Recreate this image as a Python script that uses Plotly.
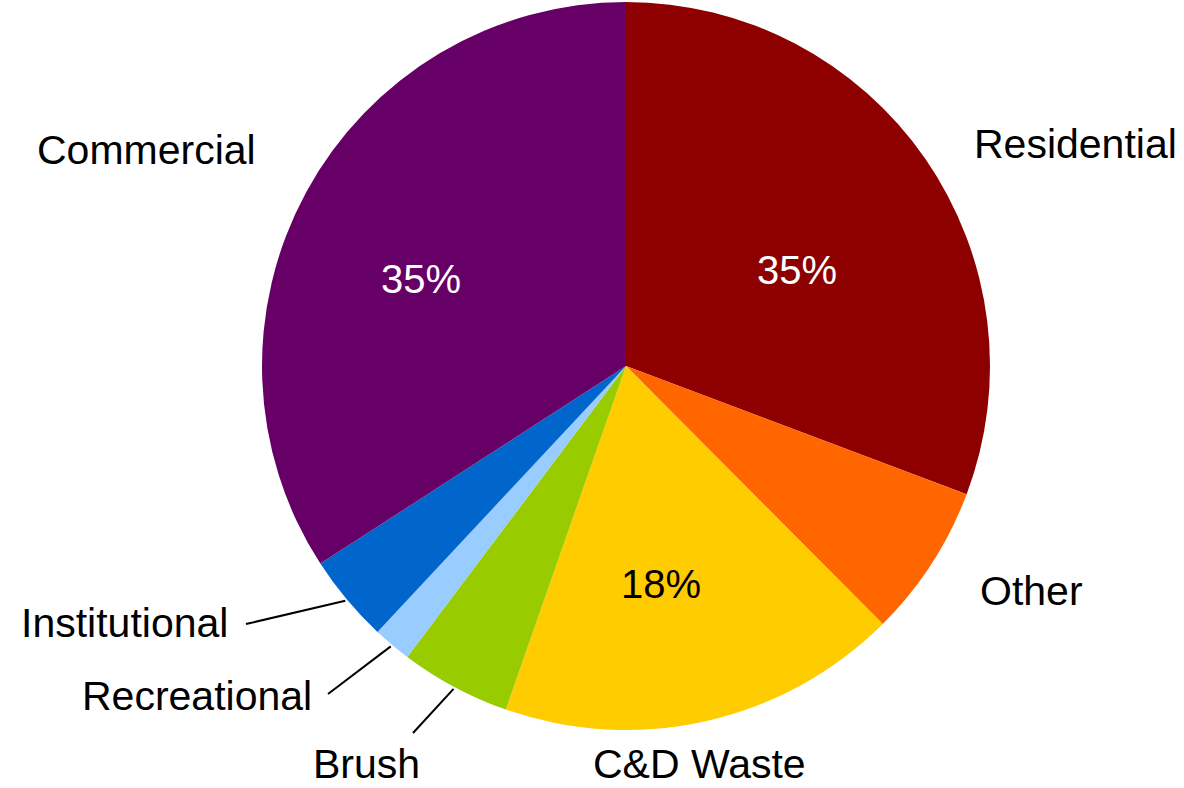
import plotly.graph_objects as go
import math

# ---- data (clockwise from 12 o'clock) ----
categories = ["Residential", "Other", "C&D Waste", "Brush", "Recreational", "Institutional", "Commercial"]
shares = [30.7, 6.8, 17.8, 4.9, 1.7, 3.9, 34.1]
pct_labels = ["35%", "", "18%", "", "", "", "35%"]
colors = ["#8E0000", "#FF6600", "#FFCC00", "#99CC00", "#99CCFF", "#0066CC", "#660066"]
pct_colors = ["white", "black", "black", "black", "black", "black", "white"]

W, H = 1184, 788
CX, CY, R = 626, 366, 364
FONT = "Liberation Sans, Arial, sans-serif"

def px(x):
    return x / W

def py(y):
    return 1 - y / H

fig = go.Figure(go.Pie(
    labels=categories,
    values=shares,
    textinfo="none",
    marker=dict(colors=colors, line=dict(width=0)),
    sort=False,
    direction="clockwise",
    rotation=0,
    showlegend=False,
    hoverinfo="label+percent",
    domain=dict(x=[px(CX - R), px(CX + R)], y=[py(CY + R), py(CY - R)]),
))

# mid-angle of each slice (clockwise from top), used for leader lines
total = sum(shares)
mid = {}
acc = 0.0
for c, v in zip(categories, shares):
    mid[c] = (acc + v / 2) / total * 360
    acc += v

def edge(cat, extra=2):
    a = math.radians(mid[cat])
    return CX + (R + extra) * math.sin(a), CY - (R + extra) * math.cos(a)

# percentage labels placed inside the slices (pixel positions)
pct_pos = {"Residential": (797, 270), "C&D Waste": (661, 584), "Commercial": (421, 279)}
for c, t, col in zip(categories, pct_labels, pct_colors):
    if t:
        x, y = pct_pos[c]
        fig.add_annotation(text=t, x=px(x), y=py(y), xref="paper", yref="paper",
                           xanchor="center", yanchor="middle", showarrow=False,
                           font=dict(family=FONT, size=40, color=col))

# outside labels: (text, anchor x px, y px, xanchor, yanchor)
outside = [
    ("Residential", 973, 144, "left", "middle"),
    ("Commercial", 257, 150, "right", "middle"),
    ("Other", 979, 591, "left", "middle"),
    ("C&D Waste", 699, 788, "center", "bottom"),
    ("Institutional", 229, 623, "right", "middle"),
    ("Recreational", 313, 696, "right", "middle"),
    ("Brush", 421, 788, "right", "bottom"),
]
for t, x, y, xa, ya in outside:
    fig.add_annotation(text=t, x=px(x), y=py(y), xref="paper", yref="paper",
                       xanchor=xa, yanchor=ya, showarrow=False, borderpad=0,
                       font=dict(family=FONT, size=41, color="black"))

# leader lines: from label end to slice edge
leaders = [("Institutional", 246, 624), ("Recreational", 328, 694), ("Brush", 413, 733)]
for cat, x0, y0 in leaders:
    x1, y1 = edge(cat)
    fig.add_shape(type="line", xref="paper", yref="paper",
                  x0=px(x0), y0=py(y0), x1=px(x1), y1=py(y1),
                  line=dict(color="black", width=2))

fig.update_layout(
    width=W, height=H,
    margin=dict(l=0, r=0, t=0, b=0),
    paper_bgcolor="white",
    plot_bgcolor="white",
)

fig.write_html("out.html")
